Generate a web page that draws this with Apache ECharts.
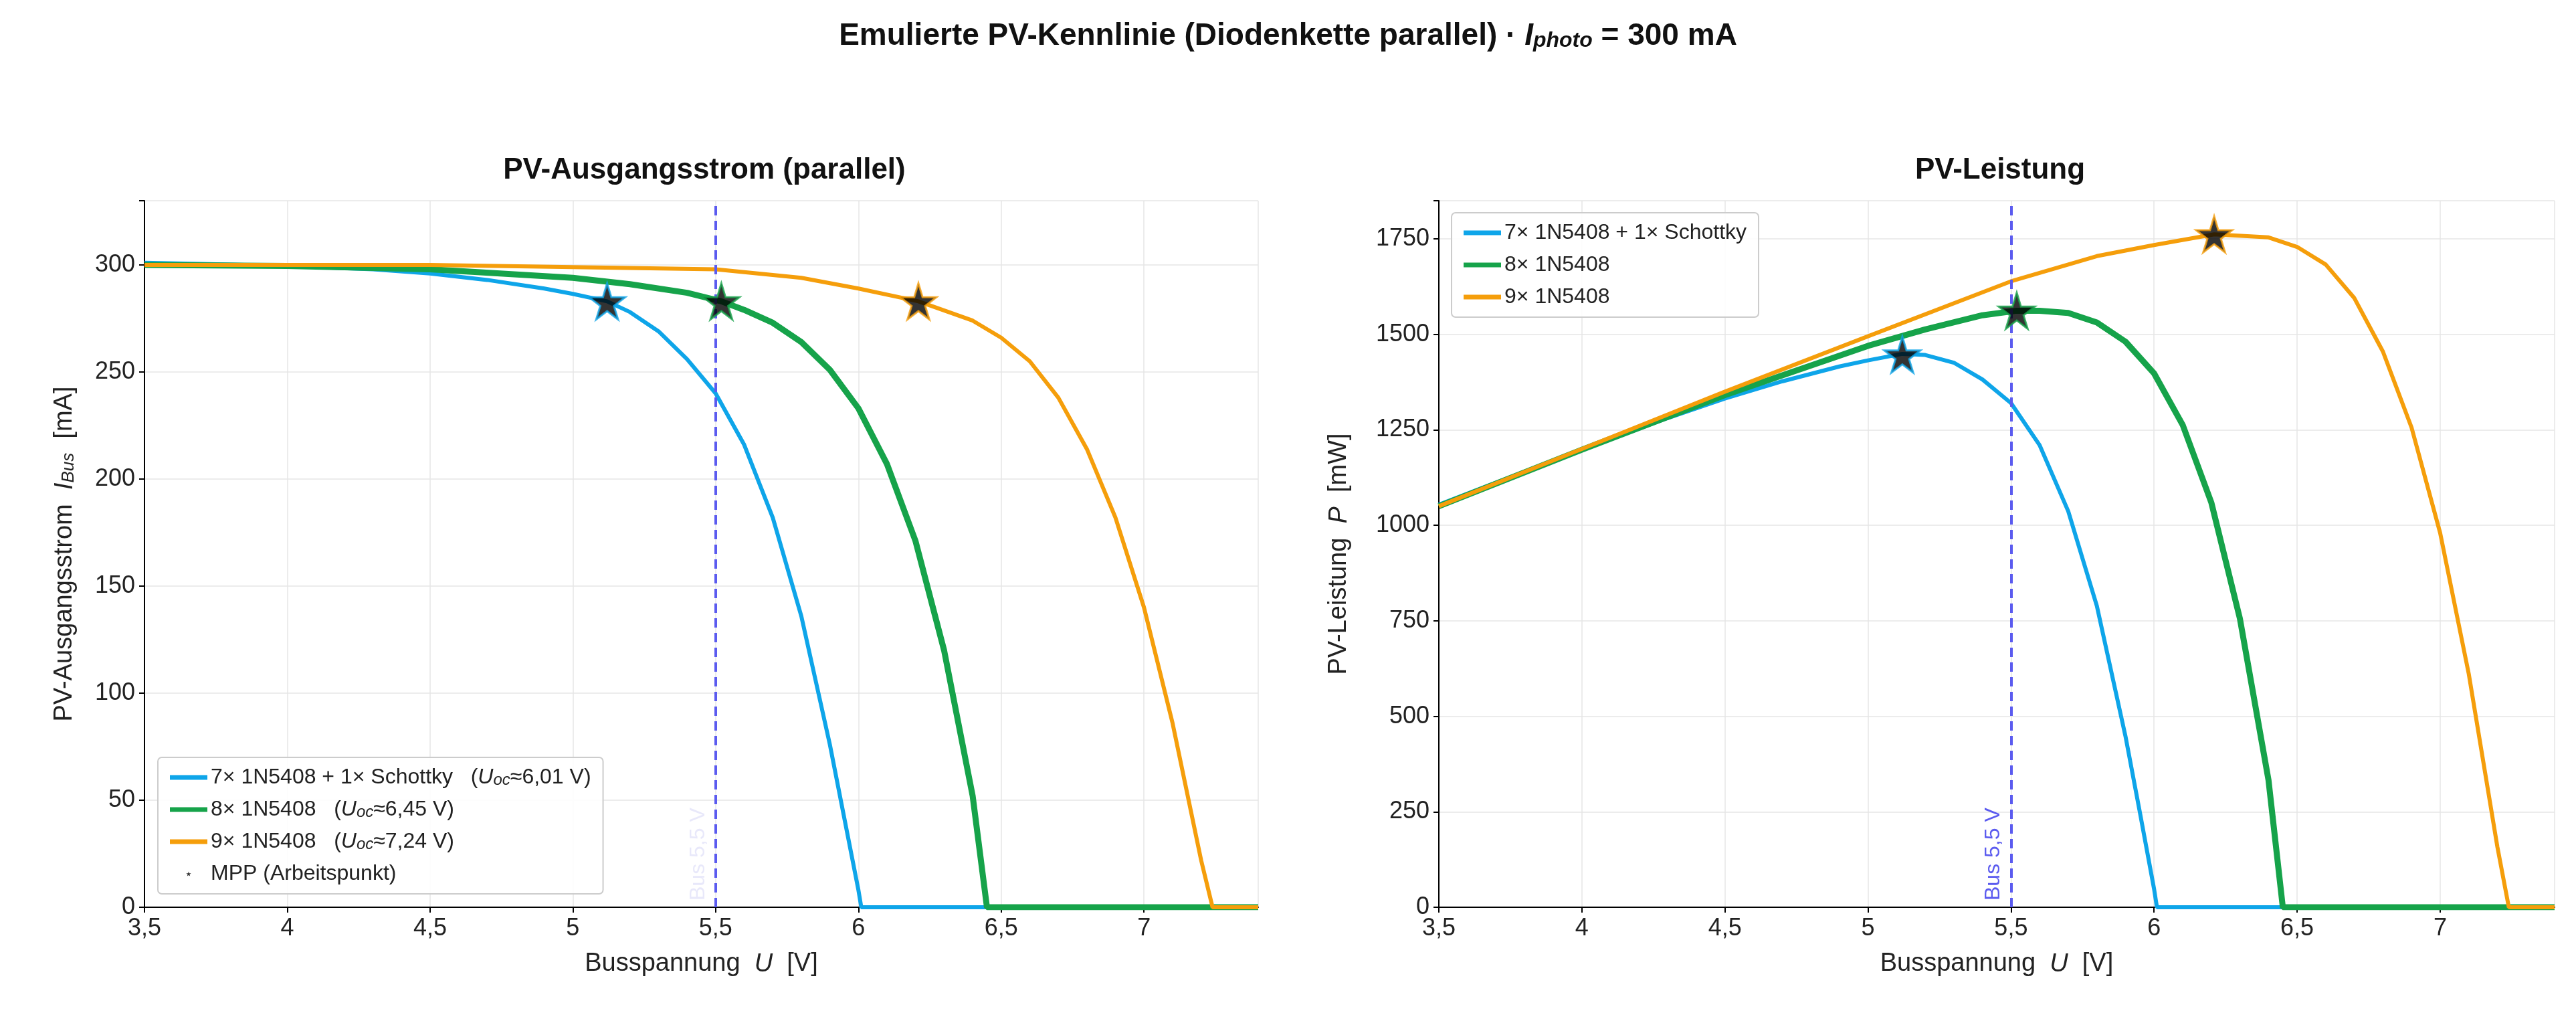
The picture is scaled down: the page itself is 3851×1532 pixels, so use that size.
<!DOCTYPE html>
<html>
<head>
<meta charset="utf-8">
<script src="https://cdn.jsdelivr.net/npm/echarts@6/dist/echarts.min.js"></script>
<style>html,body{margin:0;padding:0;background:#fff}#c{width:3851px;height:1532px}</style>
</head>
<body>
<div id="c"></div>
<script>
// Strom-Kennlinien [U in V, I in mA]
var current7 = [[3.5,301],[3.7,300.5],[4.0,299.5],[4.3,298],[4.5,296],[4.7,293],[4.9,289],[5.0,286.5],[5.12,283],[5.2,278],[5.3,269],[5.4,256],[5.5,240],[5.6,216],[5.7,182],[5.8,136],[5.9,76],[5.95,42],[6.0,8],[6.01,0],[7.4,0]];
var current8 = [[3.5,300],[4.0,299.5],[4.5,298],[5.0,294],[5.2,291],[5.4,287],[5.52,283],[5.6,279],[5.7,273],[5.8,264],[5.9,251],[6.0,233],[6.1,207],[6.2,171],[6.3,120],[6.4,52],[6.45,0],[7.4,0]];
var current9 = [[3.5,300],[4.0,300],[4.5,300],[5.0,299],[5.5,298],[5.8,294],[6.0,289],[6.21,283],[6.4,274],[6.5,266],[6.6,255],[6.7,238],[6.8,214],[6.9,182],[7.0,140],[7.1,86],[7.2,22],[7.24,0],[7.4,0]];
// Leistungs-Kennlinien [U in V, P in mW]
var power7 = [[3.5,1054],[3.7,1112],[4.0,1198],[4.3,1281],[4.5,1332],[4.7,1377],[4.9,1416],[5.0,1432],[5.12,1449],[5.2,1446],[5.3,1426],[5.4,1382],[5.5,1320],[5.6,1210],[5.7,1037],[5.8,789],[5.9,448],[5.95,250],[6.0,48],[6.01,0],[7.4,0]];
var power8 = [[3.5,1050],[4.0,1198],[4.5,1341],[5.0,1470],[5.2,1513],[5.4,1550],[5.52,1562],[5.6,1562],[5.7,1556],[5.8,1531],[5.9,1481],[6.0,1398],[6.1,1263],[6.2,1060],[6.3,756],[6.4,333],[6.45,0],[7.4,0]];
var power9 = [[3.5,1050],[4.0,1200],[4.5,1350],[5.0,1495],[5.5,1639],[5.8,1705],[6.0,1734],[6.21,1762],[6.4,1754],[6.5,1729],[6.6,1683],[6.7,1595],[6.8,1455],[6.9,1256],[7.0,980],[7.1,611],[7.2,158],[7.24,0],[7.4,0]];
// MPP
var mppCurrent = [[5.12,283],[5.52,283],[6.21,283]];
var mppPower = [[5.12,1447],[5.52,1562],[6.21,1762]];
var names = ['7× 1N5408 + 1× Schottky', '8× 1N5408', '9× 1N5408'];
var uoc = ['6,01', '6,45', '7,24'];
var colors = ['#0ea5e9', '#16a34a', '#f59e0b'];
var widths = [6, 9, 6];

var star = 'path://M50,0 L61,35 L98,35 L68,57 L79,91 L50,70 L21,91 L32,57 L2,35 L39,35 Z';
var FS = 36;
var chart = echarts.init(document.getElementById('c'));

function xAxis(idx) {
  return {
    type: 'value', gridIndex: idx, min: 3.5, max: 7.4, interval: 0.5,
    name: '{t|Busspannung  }{i|U}{t|  [V]}', nameLocation: 'middle', nameGap: 66,
    nameTextStyle: { rich: { t: { fontSize: FS + 2, color: '#222' }, i: { fontSize: FS + 2, fontStyle: 'italic', color: '#222' } } },
    axisLine: { lineStyle: { color: '#000', width: 2 } },
    axisTick: { length: 8, lineStyle: { color: '#000', width: 2 } },
    axisLabel: { fontSize: FS, color: '#222', margin: 14, showMaxLabel: false,
      formatter: function (v) { return String(+v.toFixed(1)).replace('.', ','); } },
    splitLine: { lineStyle: { color: '#e6e6e6', width: 1.5 } }
  };
}
function yAxis(idx, max, interval) {
  return {
    type: 'value', gridIndex: idx, min: 0, max: max, interval: interval,
    nameLocation: 'middle', nameGap: idx === 0 ? 100 : 130,
    axisLine: { show: true, lineStyle: { color: '#000', width: 2 } },
    axisTick: { show: true, length: 8, lineStyle: { color: '#000', width: 2 } },
    axisLabel: { fontSize: FS, color: '#222', margin: 14,
      formatter: function (v) { return v % interval === 0 && v < max ? String(v) : ''; } },
    splitLine: { lineStyle: { color: '#e6e6e6', width: 1.5 } }
  };
}
var yA0 = yAxis(0, 330, 50);
yA0.name = '{t|PV-Ausgangsstrom  }{i|I}{s|Bus}{t|  [mA]}';
var yA1 = yAxis(1, 1850, 250);
yA1.name = '{t|PV-Leistung  }{i|P}{t|  [mW]}';
var yRich = { rich: { t: { fontSize: FS + 2, color: '#222' }, i: { fontSize: FS + 2, fontStyle: 'italic', color: '#222' }, s: { fontSize: 26, fontStyle: 'italic', color: '#222', verticalAlign: 'bottom' } } };
yA0.nameTextStyle = yRich; yA1.nameTextStyle = yRich;

function busLine(labelColor) {
  return {
    silent: true, symbol: 'none',
    lineStyle: { color: '#5b5bef', type: [14, 8], width: 4 },
    label: { show: true, formatter: 'Bus 5,5 V', position: 'insideStartTop', color: labelColor, fontSize: 32, distance: 10 },
    data: [{ xAxis: 5.5 }]
  };
}

var series = [];
var curData = [current7, current8, current9];
var powData = [power7, power8, power9];
for (var k = 0; k < 3; k++) {
  series.push({
    name: 'L' + k, type: 'line', xAxisIndex: 0, yAxisIndex: 0, data: curData[k],
    showSymbol: false, smooth: false, color: colors[k], lineStyle: { width: widths[k] },
    markLine: k === 0 ? busLine('rgba(230,230,250,0.9)') : undefined
  });
  series.push({
    name: names[k], type: 'line', xAxisIndex: 1, yAxisIndex: 1, data: powData[k],
    showSymbol: false, smooth: false, color: colors[k], lineStyle: { width: widths[k] },
    markLine: k === 0 ? busLine('#5b5bef') : undefined
  });
}
function mppSeries(name, xi, data) {
  return {
    name: name, type: 'scatter', xAxisIndex: xi, yAxisIndex: xi, symbol: star, symbolSize: 54, z: 5,
    itemStyle: { color: '#000' },
    data: data.map(function (d, i) { return { value: d, itemStyle: { borderColor: colors[i], borderWidth: 3 } }; })
  };
}
series.push(mppSeries('MPP (Arbeitspunkt)', 0, mppCurrent));
series.push(mppSeries('MPP2', 1, mppPower));

var legendBox = { backgroundColor: 'rgba(255,255,255,0.9)', borderColor: '#ccc', borderWidth: 2, borderRadius: 6, padding: [14, 18], itemGap: 16, itemWidth: 56, itemHeight: 7, orient: 'vertical' };

chart.setOption({
  backgroundColor: '#fff',
  animation: false,
  title: [
    { text: '{b|Emulierte PV-Kennlinie (Diodenkette parallel) · }{i|I}{s|photo}{b| = 300 mA}', left: 'center', top: 26,
      textStyle: { rich: { b: { fontSize: 46, fontWeight: 'bold', color: '#111' }, i: { fontSize: 46, fontWeight: 'bold', fontStyle: 'italic', color: '#111' }, s: { fontSize: 32, fontWeight: 'bold', fontStyle: 'italic', color: '#111', verticalAlign: 'bottom', padding: [14, 0, 0, 0] } } } },
    { text: 'PV-Ausgangsstrom (parallel)', left: 1048, top: 228, textAlign: 'center', textStyle: { fontSize: 44, fontWeight: 'bold', color: '#111' } },
    { text: 'PV-Leistung', left: 2985, top: 228, textAlign: 'center', textStyle: { fontSize: 44, fontWeight: 'bold', color: '#111' } }
  ],
  grid: [
    { left: 216, top: 300, width: 1665, height: 1056 },
    { left: 2151, top: 300, width: 1668, height: 1056 }
  ],
  legend: [
    Object.assign({}, legendBox, {
      left: 236, bottom: 196,
      data: [{ name: 'L0', icon: 'rect' }, { name: 'L1', icon: 'rect' }, { name: 'L2', icon: 'rect' }, { name: 'MPP (Arbeitspunkt)', icon: star, itemWidth: 56, itemHeight: 48 }],
      formatter: function (n) {
        if (n.charAt(0) === 'L') {
          var k = +n.charAt(1);
          return '{t|' + names[k] + '   (}{i|U}{s|oc}{t|≈' + uoc[k] + ' V)}';
        }
        return '{t|' + n + '}';
      },
      textStyle: { rich: { t: { fontSize: 32, color: '#222' }, i: { fontSize: 32, fontStyle: 'italic', color: '#222' }, s: { fontSize: 24, fontStyle: 'italic', color: '#222', verticalAlign: 'bottom' } } }
    }),
    Object.assign({}, legendBox, {
      left: 2170, top: 318, data: names.map(function (n) { return { name: n, icon: 'rect' }; }), textStyle: { fontSize: 32, color: '#222' }
    })
  ],
  xAxis: [xAxis(0), xAxis(1)],
  yAxis: [yA0, yA1],
  series: series
});
</script>
</body>
</html>
